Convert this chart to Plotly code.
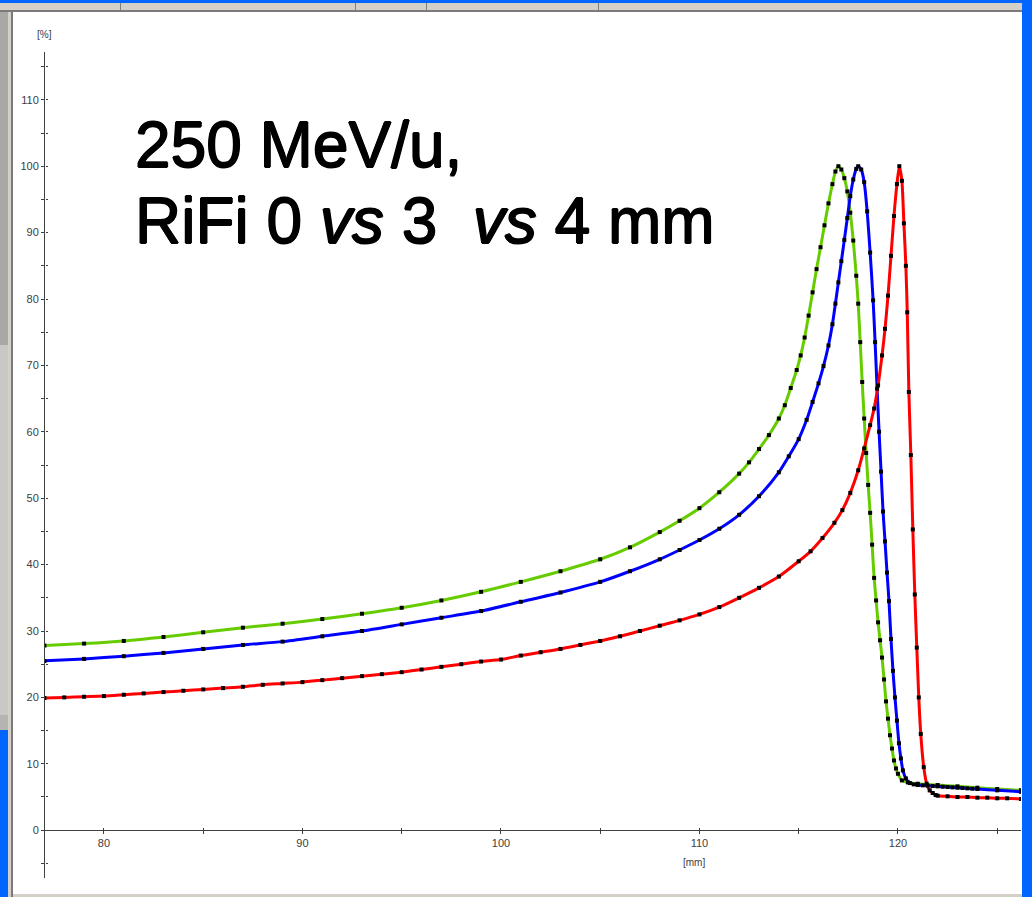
import plotly.graph_objects as go

# ---------------- data (depth in mm, relative dose in %) ----------------
green_x = [77.0, 79.0, 81.0, 83.0, 85.0, 87.0, 89.0, 91.0, 93.0, 95.0, 97.0, 99.0,
           101.0, 103.0, 105.0, 106.5, 108.0, 109.0, 110.0, 111.0, 112.0, 112.5, 113.0,
           113.5, 114.0, 114.3, 114.6, 114.9, 115.1, 115.3, 115.5, 115.7, 115.9, 116.1,
           116.3, 116.5, 116.7, 116.85, 117.0, 117.15, 117.3, 117.45, 117.6, 117.75,
           117.9, 118.0, 118.1, 118.2, 118.3, 118.4, 118.5, 118.6, 118.7, 118.8, 118.9,
           119.0, 119.1, 119.2, 119.3, 119.4, 119.5, 119.6, 119.7, 119.8, 119.9, 120.0,
           120.2, 120.5, 121.0, 122.0, 123.0, 124.0, 125.0, 126.2]
green_y = [27.8, 28.1, 28.5, 29.1, 29.8, 30.5, 31.1, 31.8, 32.6, 33.5, 34.6, 35.9,
           37.4, 39.0, 40.8, 42.6, 44.9, 46.6, 48.5, 50.9, 53.7, 55.4, 57.4,
           59.5, 62.0, 64.0, 66.6, 69.3, 71.5, 74.2, 77.5, 81.0, 84.5, 87.8,
           91.1, 94.4, 97.3, 99.2, 100.0, 99.5, 98.2, 96.2, 93.0, 88.8,
           83.5, 79.3, 73.5, 67.5, 62.0, 56.8, 52.0, 47.8, 43.0, 38.0, 34.6,
           31.3, 28.6, 26.0, 22.7, 19.4, 16.8, 14.3, 12.3, 10.5, 9.3, 8.5,
           7.5, 7.2, 7.0, 6.8, 6.6, 6.4, 6.2, 6.0]

blue_x = [77.0, 79.0, 81.0, 83.0, 85.0, 87.0, 89.0, 91.0, 93.0, 95.0, 97.0, 99.0,
          101.0, 103.0, 105.0, 106.5, 108.0, 109.0, 110.0, 111.0, 112.0, 113.0, 114.0,
          114.5, 115.0, 115.4, 115.7, 116.0, 116.25, 116.5, 116.7, 116.85, 117.0, 117.15,
          117.3, 117.45, 117.6, 117.75, 117.9, 118.0, 118.15, 118.3, 118.45, 118.6, 118.75,
          118.85, 118.95, 119.05, 119.15, 119.25, 119.35, 119.45, 119.55, 119.65, 119.75,
          119.85, 119.95, 120.05, 120.15, 120.25, 120.4, 120.6, 120.8, 121.0, 121.25, 121.5,
          121.75, 122.0, 122.25, 122.5, 122.75, 123.0, 123.25, 123.5, 123.75, 124.0,
          125.0, 126.2]
blue_y = [25.5, 25.8, 26.2, 26.7, 27.3, 27.9, 28.4, 29.2, 30.0, 31.0, 32.0, 33.0,
          34.4, 35.8, 37.4, 39.0, 40.8, 42.2, 43.7, 45.4, 47.5, 50.3, 53.9,
          56.3, 58.9, 61.8, 64.5, 67.3, 69.9, 73.0, 76.2, 79.3, 82.5, 85.7,
          88.9, 92.2, 95.5, 98.0, 99.6, 100.0, 99.5, 97.6, 93.2, 87.0, 79.8,
          73.5, 66.5, 60.0, 54.0, 48.0, 43.5, 38.8, 34.5, 28.8, 24.0,
          20.0, 16.5, 13.1, 10.8, 9.0, 7.8, 7.1, 6.9, 6.8, 6.75, 6.7,
          6.65, 6.6, 6.55, 6.5, 6.45, 6.4, 6.35, 6.3, 6.25, 6.2,
          6.0, 5.8]

red_x = [77.0, 78.0, 79.0, 80.0, 81.0, 82.0, 83.0, 84.0, 85.0, 86.0, 87.0, 88.0,
         89.0, 90.0, 91.0, 92.0, 93.0, 94.0, 95.0, 96.0, 97.0, 98.0, 99.0, 100.0,
         101.0, 102.0, 103.0, 104.0, 105.0, 106.0, 107.0, 108.0, 109.0, 110.0, 111.0,
         112.0, 113.0, 114.0, 115.0, 115.6, 116.2, 116.8, 117.2, 117.6, 118.0, 118.3,
         118.6, 118.8, 119.0, 119.2, 119.35, 119.5, 119.65, 119.8, 119.95, 120.07,
         120.2, 120.3, 120.4, 120.47, 120.55, 120.65, 120.75, 120.85, 120.95, 121.05,
         121.15, 121.3, 121.45, 121.6, 121.75, 121.9, 122.0, 122.5, 123.0, 123.5,
         124.0, 124.5, 125.0, 125.5, 126.2]
red_y = [19.9, 20.0, 20.1, 20.2, 20.4, 20.6, 20.8, 21.0, 21.2, 21.4, 21.6, 21.9,
         22.1, 22.3, 22.6, 22.9, 23.2, 23.5, 23.8, 24.2, 24.6, 25.0, 25.4, 25.7,
         26.3, 26.8, 27.3, 27.9, 28.5, 29.2, 30.0, 30.8, 31.6, 32.5, 33.6,
         35.0, 36.5, 38.2, 40.5, 42.0, 44.0, 46.3, 48.2, 50.8, 54.2, 57.5,
         61.0, 63.5, 67.0, 71.5, 75.5, 80.5, 86.5, 92.5, 97.3, 100.0,
         97.8, 91.4, 85.0, 78.0, 66.0, 56.5, 45.3, 35.5, 27.5, 20.0,
         14.5, 9.5, 7.0, 6.0, 5.6, 5.3, 5.2, 5.1, 5.0, 5.0,
         4.9, 4.9, 4.8, 4.8, 4.7]

x_tick_vals = [80, 85, 90, 95, 100, 105, 110, 115, 120, 125]
x_tick_text = ["80", "", "90", "", "100", "", "110", "", "120", ""]
y_tick_vals = [-5, 0, 5, 10, 15, 20, 25, 30, 35, 40, 45, 50, 55, 60, 65, 70, 75,
               80, 85, 90, 95, 100, 105, 110, 115]
y_tick_text = ["" if v % 10 or v < 0 else str(v) for v in y_tick_vals]

title_line1 = "250 MeV/u,"
title_line2 = "RiFi 0 <i>vs</i> 3  <i>vs</i> 4 mm"
y_unit = "[%]"
x_unit = "[mm]"

# ---------------- layout geometry ----------------
W, H = 1032, 897
L, R, T, B = 45, 11, 52, 19
X_RANGE = [77.03, 126.2]
Y_RANGE = [-7.2, 117.2]


def px(xp):
    return (xp - L) / (W - L - R)


def py(yp):
    return (H - B - yp) / (H - T - B)


AXIS_COLOR = "#404040"
TICK_FONT = dict(family="Liberation Sans, Arial", size=11, color="#404040")

fig = go.Figure()

series = [(green_x, green_y, "#66cc00"), (blue_x, blue_y, "#0000ff"), (red_x, red_y, "#ff0000")]
for xs, ys, col in series:
    fig.add_trace(go.Scatter(x=xs, y=ys, mode="lines", line=dict(color=col, width=3, shape="spline", smoothing=0.6),
                             showlegend=False, hoverinfo="skip"))
for xs, ys, col in series:
    fig.add_trace(go.Scatter(x=xs, y=ys, mode="markers",
                             marker=dict(color="black", size=4, symbol="square"),
                             showlegend=False, hoverinfo="skip"))

# helper trace on overlay axes (for crossing tick marks)
fig.add_trace(go.Scatter(x=[green_x[0]], y=[green_y[0]], xaxis="x2", yaxis="y2", mode="markers",
                         marker=dict(opacity=0), showlegend=False, hoverinfo="skip"))

zero_pos = (0 - Y_RANGE[0]) / (Y_RANGE[1] - Y_RANGE[0])

fig.update_layout(
    width=W, height=H,
    margin=dict(l=L, r=R, t=T, b=B, pad=0),
    paper_bgcolor="white", plot_bgcolor="white",
    xaxis=dict(range=X_RANGE, anchor="free", position=zero_pos, showgrid=False, zeroline=False,
               showline=True, linecolor=AXIS_COLOR, linewidth=1,
               tickmode="array", tickvals=x_tick_vals, ticktext=x_tick_text,
               ticks="outside", ticklen=3, tickcolor=AXIS_COLOR, tickwidth=1,
               tickfont=TICK_FONT, fixedrange=True),
    yaxis=dict(range=Y_RANGE, showgrid=False, zeroline=False,
               showline=True, linecolor=AXIS_COLOR, linewidth=1,
               tickmode="array", tickvals=y_tick_vals, ticktext=y_tick_text,
               ticks="outside", ticklen=3, tickcolor=AXIS_COLOR, tickwidth=1,
               tickfont=TICK_FONT, fixedrange=True),
    xaxis2=dict(range=X_RANGE, overlaying="x", anchor="free", position=zero_pos, showgrid=False,
                zeroline=False, showline=False, tickmode="array", tickvals=x_tick_vals,
                ticks="inside", ticklen=2, tickcolor=AXIS_COLOR, showticklabels=False, fixedrange=True),
    yaxis2=dict(range=Y_RANGE, overlaying="y", anchor="free", position=0, side="left", showgrid=False,
                zeroline=False, showline=False, tickmode="array", tickvals=y_tick_vals,
                ticks="inside", ticklen=2, tickcolor=AXIS_COLOR, showticklabels=False, fixedrange=True),
)

TITLE_FONT = dict(family="Liberation Sans, Arial", size=64, color="black",
                  shadow="0.8px 0 0 #000, -0.8px 0 0 #000, 0 0.6px 0 #000, 0 -0.6px 0 #000")
annotations = [
    dict(text=title_line1, x=px(133), y=py(183), xanchor="left", yanchor="bottom", font=TITLE_FONT),
    dict(text=title_line2, x=px(133), y=py(259), xanchor="left", yanchor="bottom", font=TITLE_FONT),
    dict(text=y_unit, x=px(44), y=py(34), xanchor="center", yanchor="middle",
         font=dict(family="Liberation Sans, Arial", size=10, color="#404040")),
    dict(text=x_unit, x=px(694), y=py(862), xanchor="center", yanchor="middle",
         font=dict(family="Liberation Sans, Arial", size=10, color="#404040")),
]
for a in annotations:
    a.update(xref="paper", yref="paper", showarrow=False)
fig.update_layout(annotations=annotations)

# window chrome (paper-referenced decoration)
def rect(x0, y0, x1, y1, color):
    return dict(type="rect", xref="paper", yref="paper", x0=px(x0), x1=px(x1), y0=py(y1), y1=py(y0),
                fillcolor=color, line=dict(width=0), layer="above")

BLUE = "#0066ff"
shapes = [
    rect(0, 0, W, 3, BLUE),                 # top blue strip
    rect(0, 3, 1022, 10, "#d4d0c8"),        # gray tab bar
    rect(0, 10, 1022, 12, "#7a7a7a"),       # dark line under bar
    rect(0, 12, 8, 345, "#a8a8a4"),         # left striped panel
    rect(0, 345, 8, 715, "#c8c8c4"),
    rect(0, 715, 8, 730, "#b4b4b0"),
    rect(0, 730, 8, H, BLUE),               # left lower blue
    rect(8, 12, 11, H, "#d4d0c8"),          # left frame
    rect(11, 12, 13, H, "#7a7a7a"),         # left border line
    rect(13, 894, 1022, H, "#d4d0c8"),      # bottom strip
    rect(1022, 0, W, H, BLUE),              # right blue strip
    rect(120, 3, 121, 10, "#808080"),
    rect(355, 3, 356, 10, "#808080"),
    rect(426, 3, 427, 10, "#808080"),
    rect(598, 3, 599, 10, "#808080"),
]
fig.update_layout(shapes=shapes)

fig.write_html("out.html")
